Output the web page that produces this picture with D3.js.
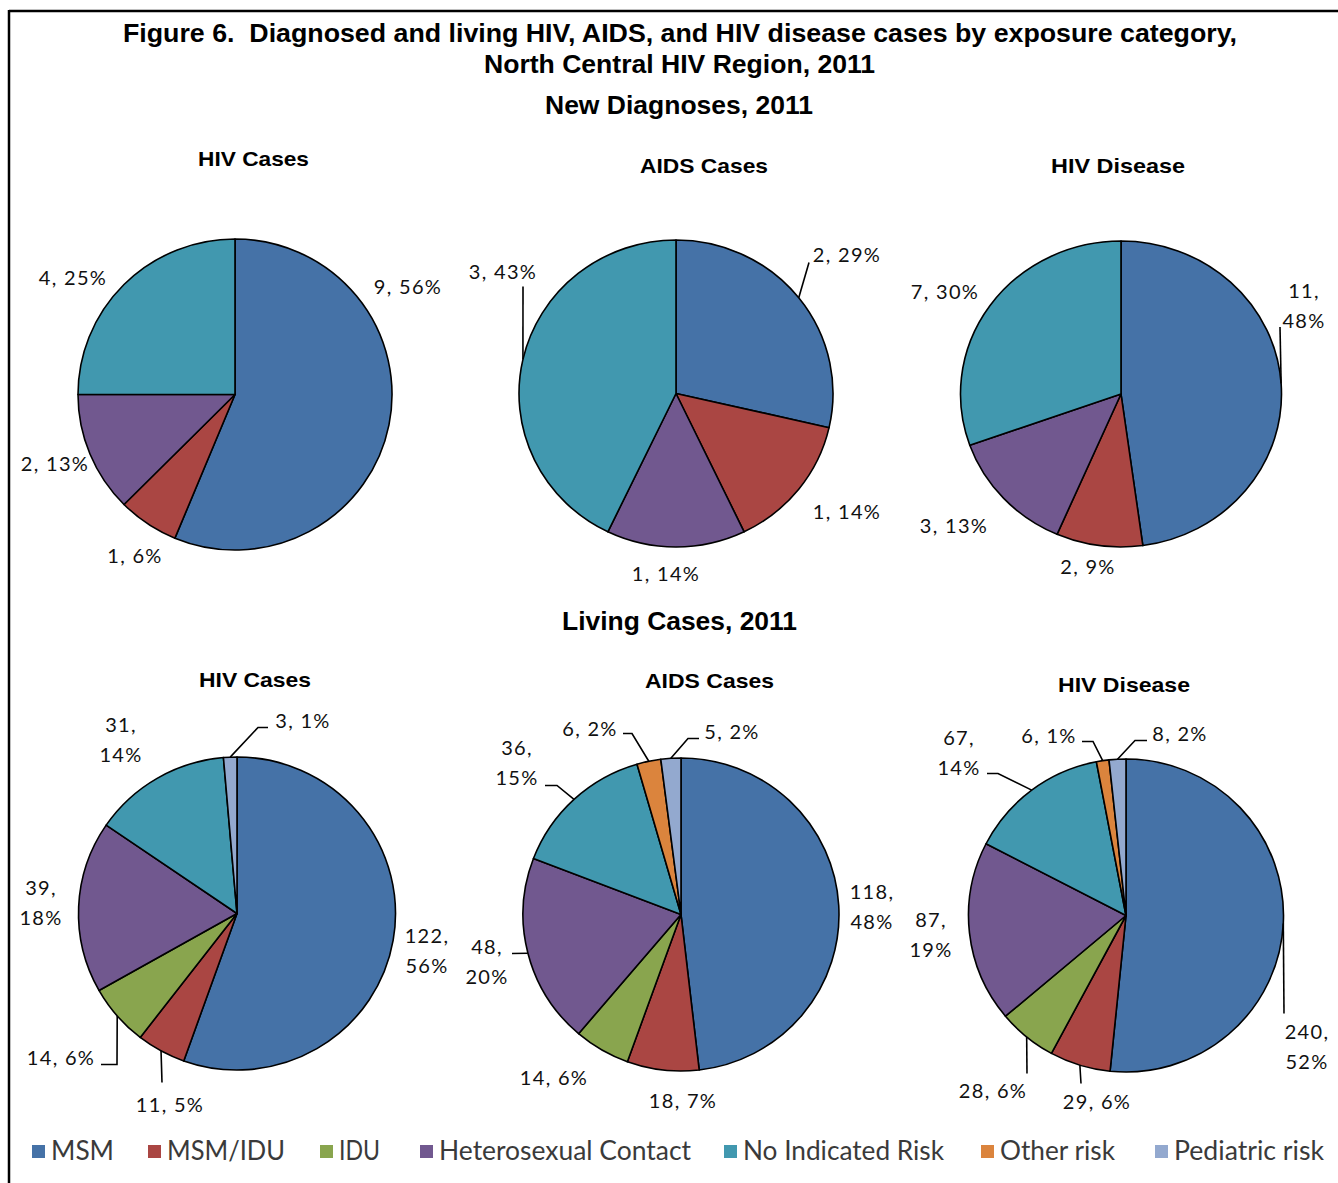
<!DOCTYPE html>
<html>
<head>
<meta charset="utf-8">
<script src="https://cdn.jsdelivr.net/npm/d3@7"></script>
<style>
  html, body { margin: 0; padding: 0; background: #fff; }
  svg { display: block; }
  .lbl { font-family: Lato, "Open Sans", sans-serif; font-size: 20px; fill: #111; letter-spacing: 1.3px; }
  .ttl { font-family: "Liberation Sans", Arial, sans-serif; font-weight: bold; fill: #000; white-space: pre; }
  .leg { font-family: Lato, "Open Sans", sans-serif; font-size: 26px; fill: #3a3a3a; }
</style>
</head>
<body>
<svg id="chart" width="1338" height="1183"></svg>
<script>
// Exposure categories, in the clockwise order the slices are drawn
const categories = ["MSM", "MSM/IDU", "IDU", "Heterosexual Contact", "No Indicated Risk", "Other risk", "Pediatric risk"];
const categoryColors = ["#4572A7", "#AA4643", "#89A54E", "#71588F", "#4198AF", "#DB843D", "#93A9CF"];

// New diagnoses, 2011 (counts and stated percentages)
const newHivCases      = [9, 1, 0, 2, 4, 0, 0];
const newHivCasesPct   = [56, 6, 0, 13, 25, 0, 0];
const newAidsCases     = [2, 1, 0, 1, 3, 0, 0];
const newAidsCasesPct  = [29, 14, 0, 14, 43, 0, 0];
const newHivDisease    = [11, 2, 0, 3, 7, 0, 0];
const newHivDiseasePct = [48, 9, 0, 13, 30, 0, 0];

// Living cases, 2011
const livingHivCases      = [122, 11, 14, 39, 31, 0, 3];
const livingHivCasesPct   = [56, 5, 6, 18, 14, 0, 1];
const livingAidsCases     = [118, 18, 14, 48, 36, 6, 5];
const livingAidsCasesPct  = [48, 7, 6, 20, 15, 2, 2];
const livingHivDisease    = [240, 29, 28, 87, 67, 6, 8];
const livingHivDiseasePct = [52, 6, 6, 19, 14, 1, 2];

const panelTitles = ["HIV Cases", "AIDS Cases", "HIV Disease"];

// ---- layout ----
const svg = d3.select("#chart");

// Frame: rule along the top and the left side
svg.append("line").attr("x1", 9).attr("x2", 1338).attr("y1", 11).attr("y2", 11)
  .attr("stroke", "#000").attr("stroke-width", 2.5);
svg.append("line").attr("x1", 9).attr("x2", 9).attr("y1", 10).attr("y2", 1183)
  .attr("stroke", "#000").attr("stroke-width", 2.5);

function title(text, x, y, size, width) {
  svg.append("text").attr("class", "ttl")
    .attr("x", x).attr("y", y)
    .attr("text-anchor", "middle")
    .attr("font-size", size)
    .attr("textLength", width).attr("lengthAdjust", "spacingAndGlyphs")
    .text(text);
}

title("Figure 6.  Diagnosed and living HIV, AIDS, and HIV disease cases by exposure category,", 680, 42, 25, 1114);
title("North Central HIV Region, 2011", 679.5, 73, 25, 391);
title("New Diagnoses, 2011", 679, 114, 25, 268);
title("Living Cases, 2011", 679.5, 630, 25, 235);

// Label placement per panel: [category index, dx, dy, two-line, leader elbow points]
// (offsets are relative to the pie centre; dy is the centre of the first text line)
const panels = [
  { values: newHivCases, pct: newHivCasesPct, name: panelTitles[0], cx: 235, cy: 394.5, rx: 157, ry: 155.5,
    tx: 253.5, ty: 166, tw: 111,
    labels: [[0, 173, -108, false, null], [1, -100, 161, false, null],
             [3, -180, 69, false, null], [4, -162, -117, false, null]] },
  { values: newAidsCases, pct: newAidsCasesPct, name: panelTitles[1], cx: 676, cy: 393.5, rx: 157, ry: 153.5,
    tx: 704, ty: 173, tw: 128,
    labels: [[0, 171, -139, false, [[133, -131]]], [1, 171, 118, false, null],
             [3, -10, 180, false, null], [4, -173, -122, false, [[-153, -107]]]] },
  { values: newHivDisease, pct: newHivDiseasePct, name: panelTitles[2], cx: 1121, cy: 394, rx: 160.5, ry: 153,
    tx: 1118, ty: 173, tw: 134,
    labels: [[0, 183, -103, true, [[159, -67]]], [1, -33, 173, false, null],
             [3, -167, 132, false, null], [4, -176, -102, false, null]] },
  { values: livingHivCases, pct: livingHivCasesPct, name: panelTitles[0], cx: 237, cy: 913.5, rx: 158.5, ry: 156.5,
    tx: 255, ty: 687, tw: 112,
    labels: [[0, 190, 22, true, null], [1, -67, 191, false, [[-75, 169]]],
             [2, -176, 144, false, [[-120, 151], [-136, 151]]], [3, -196, -26, true, null],
             [4, -116, -189, true, null], [6, 66, -193, false, [[21, -186], [31, -186]]]] },
  { values: livingAidsCases, pct: livingAidsCasesPct, name: panelTitles[1], cx: 681, cy: 914.5, rx: 158, ry: 156.5,
    tx: 709.5, ty: 688, tw: 129,
    labels: [[0, 191, -23, true, null], [1, 2, 186, false, null],
             [2, -127, 163, false, null], [3, -194, 32, true, [[-169, 39]]],
             [4, -164, -167, true, [[-124, -129], [-136, -129]]],
             [5, -91, -186, false, [[-49, -181], [-58, -181]]],
             [6, 51, -183, false, [[7, -176], [18, -176]]]] },
  { values: livingHivDisease, pct: livingHivDiseasePct, name: panelTitles[2], cx: 1126, cy: 915.5, rx: 157.5, ry: 156.5,
    tx: 1124, ty: 692, tw: 132,
    labels: [[0, 181, 116, true, [[158, 98]]], [1, -29, 186, false, [[-45, 168]]],
             [2, -133, 175, false, [[-99, 158]]], [3, -195, 4, true, null],
             [4, -167, -178, true, [[-128, -142], [-139, -142]]],
             [5, -77, -180, false, [[-33, -174], [-44, -174]]],
             [6, 54, -182, false, [[9, -175], [21, -175]]]] }
];

const color = d3.scaleOrdinal().domain(categories).range(categoryColors);
const pie = d3.pie().sort(null).value(d => d.value);

panels.forEach(p => {
  title(p.name, p.tx, p.ty, 21, p.tw);

  const rows = categories.map((c, i) => ({ cat: c, idx: i, value: p.values[i], pct: p.pct[i] }))
    .filter(d => d.value > 0);
  const arcs = pie(rows);
  // slices are drawn on a radius of ry and stretched horizontally to rx
  const sx = p.rx / p.ry;
  const arc = d3.arc().innerRadius(0).outerRadius(p.ry);
  const rim = d3.arc().innerRadius(p.ry).outerRadius(p.ry);

  const g = svg.append("g").attr("transform", `translate(${p.cx},${p.cy})`);

  g.append("g").attr("transform", `scale(${sx},1)`)
    .selectAll("path.slice").data(arcs).join("path")
    .attr("class", "slice")
    .attr("d", arc)
    .attr("fill", d => color(d.data.cat))
    .attr("stroke", "#000")
    .attr("stroke-width", 1.6)
    .attr("vector-effect", "non-scaling-stroke")
    .attr("stroke-linejoin", "round");

  const byIdx = new Map(arcs.map(a => [a.data.idx, a]));

  p.labels.forEach(([idx, dx, dy, twoLine, leader]) => {
    const a = byIdx.get(idx);
    if (!a) return;
    if (leader) {
      const [ex, ey] = rim.centroid(a);
      const pts = [[ex * sx, ey], ...leader];
      g.append("path")
        .attr("d", d3.line()(pts))
        .attr("fill", "none")
        .attr("stroke", "#000")
        .attr("stroke-width", 1.6);
    }
    const t = g.append("text").attr("class", "lbl").attr("text-anchor", "middle");
    if (twoLine) {
      t.append("tspan").attr("x", dx).attr("y", dy + 7).text(`${a.data.value},`);
      t.append("tspan").attr("x", dx).attr("y", dy + 37).text(`${a.data.pct}%`);
    } else {
      t.attr("x", dx).attr("y", dy + 7).text(`${a.data.value}, ${a.data.pct}%`);
    }
  });
});

// Legend along the bottom
const legendX = [32, 148, 320, 420, 724, 981, 1155];
const legendW = [63, 118, 41, 252, 201, 115, 150];
const legend = svg.append("g");
categories.forEach((c, i) => {
  legend.append("rect")
    .attr("x", legendX[i]).attr("y", 1145)
    .attr("width", 13).attr("height", 13)
    .attr("fill", color(c));
  legend.append("text").attr("class", "leg")
    .attr("x", legendX[i] + 19).attr("y", 1160)
    .attr("textLength", legendW[i]).attr("lengthAdjust", "spacingAndGlyphs")
    .text(c);
});
</script>
</body>
</html>
